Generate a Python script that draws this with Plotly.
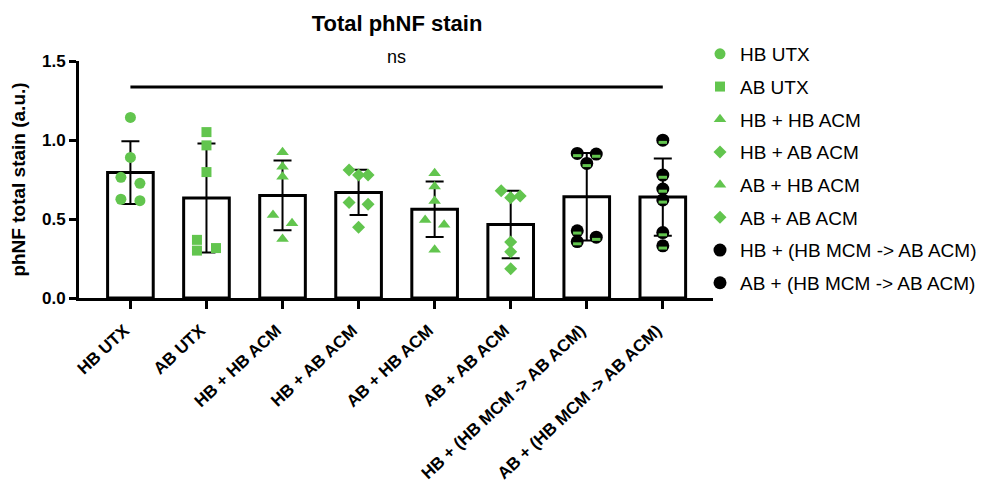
import numpy as np
import plotly.graph_objects as go

# ---------------- data ----------------
categories = ["HB UTX", "AB UTX", "HB + HB ACM", "HB + AB ACM", "AB + HB ACM",
              "AB + AB ACM", "HB + (HB MCM -> AB ACM)", "AB + (HB MCM -> AB ACM)"]

hb_utx = [1.143, 0.890, 0.764, 0.726, 0.625, 0.616]
ab_utx = [1.050, 0.966, 0.797, 0.368, 0.316, 0.300]
hb_hb_acm = [0.922, 0.831, 0.768, 0.526, 0.473, 0.374]
hb_ab_acm = [0.810, 0.778, 0.778, 0.604, 0.593, 0.448]
ab_hb_acm = [0.789, 0.705, 0.614, 0.494, 0.463, 0.305]
ab_ab_acm = [0.679, 0.646, 0.635, 0.354, 0.292, 0.185]
hb_mcm_ab_acm = [0.915, 0.911, 0.852, 0.425, 0.385, 0.357]
ab_mcm_ab_acm = [0.999, 0.778, 0.690, 0.621, 0.414, 0.330]

groups = [hb_utx, ab_utx, hb_hb_acm, hb_ab_acm, ab_hb_acm, ab_ab_acm,
          hb_mcm_ab_acm, ab_mcm_ab_acm]

y_ticks = [0.0, 0.5, 1.0, 1.5]
ns_level = 1.336
ns_label = "ns"

# ---------------- styles ----------------
GREEN = "#62C54E"
FONT = "Liberation Sans, Arial, Helvetica, sans-serif"
symbols = ["circle", "square", "triangle-up", "diamond", "triangle-up", "diamond",
           "circle", "circle"]
sizes = [11, 10, 11, 10, 11, 10, 13, 13]
half = [False] * 6 + [True, True]
Y_MAX = 1.5
W, H = 988, 493

means = [float(np.mean(g)) for g in groups]
sds = [float(np.std(g, ddof=1)) for g in groups]
xpos = list(range(len(categories)))


def swarm_offsets(vals, gap=0.055, near=0.065, step=0.125):
    """simple deterministic beeswarm: clusters of close values spread L/R"""
    order = sorted(range(len(vals)), key=lambda i: -vals[i])
    offs = [0.0] * len(vals)
    clusters, cur = [], [order[0]]
    for a, b in zip(order[:-1], order[1:]):
        if vals[a] - vals[b] < gap:
            cur.append(b)
        else:
            clusters.append(cur)
            cur = [b]
    clusters.append(cur)
    for cl in clusters:
        if len(cl) == 1:
            continue
        placed = {-1: [], 1: []}
        side = -1
        for i in cl:
            if any(abs(vals[i] - vals[j]) < near for j in placed[side]):
                offs[i] = 0.0
            else:
                offs[i] = side * step
                placed[side].append(i)
            side = -side
    return offs


fig = go.Figure()

fig.add_trace(go.Bar(
    x=xpos, y=means, width=0.6,
    marker=dict(color="white", line=dict(color="black", width=3)),
    error_y=dict(type="data", array=sds, visible=True, color="black",
                 thickness=2, width=9),
    showlegend=False, hoverinfo="skip", legendgroup="bars",
))

for k, (name, vals) in enumerate(zip(categories, groups)):
    offs = swarm_offsets(vals)
    xs = [xpos[k] + o for o in offs]
    grp = f"g{k}"
    if half[k]:
        fig.add_trace(go.Scatter(
            x=xs, y=vals, mode="markers", name=name, legendgroup=grp,
            marker=dict(symbol="circle", size=sizes[k], color="black",
                        line=dict(width=0)),
            cliponaxis=False,
        ))
        fig.add_trace(go.Scatter(
            x=xs, y=[v - 0.014 for v in vals], mode="markers", showlegend=False,
            legendgroup=grp,
            marker=dict(symbol="line-ew", size=6, color=GREEN,
                        line=dict(width=3, color=GREEN)),
            cliponaxis=False, hoverinfo="skip",
        ))
    else:
        fig.add_trace(go.Scatter(
            x=xs, y=vals, mode="markers", name=name, legendgroup=grp,
            marker=dict(symbol=symbols[k], size=sizes[k], color=GREEN,
                        line=dict(width=0)),
            cliponaxis=False,
        ))

# significance bracket
fig.add_shape(type="line", xref="x", yref="y", x0=xpos[0], x1=xpos[-1],
              y0=ns_level, y1=ns_level, line=dict(color="black", width=3))
fig.add_annotation(x=(xpos[0] + xpos[-1]) / 2, y=1.525 / Y_MAX, xref="x", yref="paper",
                   text=ns_label, showarrow=False, yanchor="middle",
                   font=dict(family=FONT, size=18, color="black"))

fig.update_layout(
    width=W, height=H,
    paper_bgcolor="white", plot_bgcolor="white",
    margin=dict(l=71, r=283, t=53, b=203, autoexpand=False),
    title=dict(text="<b>Total phNF stain</b>", x=389 / W, xanchor="center",
               y=1 - 15 / H, yanchor="middle",
               font=dict(family=FONT, size=22, color="black")),
    font=dict(family=FONT, color="black"),
    legend=dict(xref="container", yref="container", x=692 / W, y=1 - 27 / H,
                xanchor="left", yanchor="top", tracegroupgap=5,
                traceorder="grouped", maxheight=1,
                font=dict(family=FONT, size=19, color="black"),
                bgcolor="rgba(0,0,0,0)"),
    showlegend=True,
)

fig.update_xaxes(
    range=[-0.676, 7.66], tickmode="array", tickvals=xpos, ticktext=categories,
    tickangle=-43, ticks="outside", ticklen=8, tickwidth=3, tickcolor="black",
    showline=True, linewidth=3, linecolor="black", showgrid=False, zeroline=False,
    automargin=False, ticklabelstandoff=5, ticklabelshift=-6,
    tickfont=dict(family=FONT, size=17, color="black", weight="bold"),
)
fig.update_yaxes(
    range=[0, Y_MAX], tickmode="array", tickvals=y_ticks,
    ticktext=[f"{v:.1f}" for v in y_ticks],
    ticks="outside", ticklen=7, tickwidth=3, tickcolor="black",
    showline=True, linewidth=3, linecolor="black", showgrid=False, zeroline=False,
    automargin=False,
    tickfont=dict(family=FONT, size=17, color="black", weight="bold"),
    title=dict(text="<b>phNF total stain (a.u.)</b>", standoff=13,
               font=dict(family=FONT, size=19, color="black")),
)

fig.write_html("out.html")
